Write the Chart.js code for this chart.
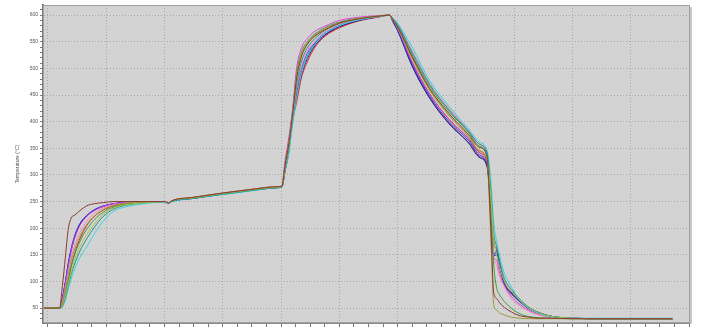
<!DOCTYPE html>
<html>
<head>
<meta charset="utf-8">
<script src="https://cdn.jsdelivr.net/npm/chart.js@4.4.1/dist/chart.umd.min.js"></script>
<style>
  html, body { margin: 0; padding: 0; background: #fff; }
</style>
</head>
<body>
<canvas id="profile" width="709" height="328"></canvas>
<script>
// sample times (s), shared by every probe
var times = [-5, 12, 15, 18, 21, 24, 28, 33, 40, 48, 57, 68, 80, 95, 120,
  124, 127, 150, 180, 210, 236, 241,
  244, 248, 252, 256, 261, 267, 275, 285, 300, 320, 340, 352,
  355, 360, 375, 393, 413, 433, 444, 452,
  456, 459, 462, 465, 470, 477, 485, 495, 505, 520, 540, 570, 643];

// probe temperatures (°C)
var brown   = [50,50,92,145,198,219,225,233,242,246,248,250,250,250,250, 247,251,258,266,273,278,279, 315,358,415,480,522,545,561,572,585,593,598,600, 592,578,522,462,415,376,352,335, 200,78,68,60,51,43,36,33,31,31,30,30,30];
var red     = [50,50,55,75,100,128,155,180,205,222,234,242,246,249,250, 247,251,257,265,272,277,278, 305,342,402,436,482,512,540,560,576,589,596,600, 590,574,512,452,404,368,342,325, 245,175,160,135,98,80,66,51,42,34,31,30,30];
var blue    = [50,50,70,100,135,162,188,209,224,235,242,246,248,249,250, 247,250,257,264,272,277,279, 312,352,410,462,500,528,548,566,581,591,597,600, 590,573,508,448,400,365,338,321, 240,150,158,132,96,79,64,50,41,34,31,30,30];
var magenta = [50,50,66,95,128,157,183,205,222,233,241,246,248,249,250, 248,251,258,266,273,278,280, 325,370,425,500,538,556,570,579,590,596,599,600, 591,575,512,452,405,369,345,328, 235,145,140,115,92,72,58,46,38,33,31,30,30];
var cyan    = [50,50,52,65,85,105,125,145,165,190,213,232,240,245,249, 246,249,256,263,270,276,277, 305,340,395,445,490,522,545,565,580,591,597,600, 595,585,540,477,429,386,362,347, 290,210,175,148,115,90,66,50,40,33,31,31,31];
var green   = [50,50,58,80,105,128,152,175,198,216,230,240,245,248,250, 247,251,257,265,272,277,279, 318,362,420,490,530,550,565,576,587,594,598,600, 592,580,525,466,419,380,354,338, 230,130,88,75,62,50,40,34,32,31,30,30,30];
var olive   = [50,50,60,85,112,138,163,185,207,223,235,243,247,249,250, 247,251,258,266,273,278,279, 316,360,418,485,527,548,563,574,586,594,598,600, 591,578,520,460,412,373,346,328, 180,55,46,41,37,33,31,30,30,30,30,30,30];
var purple  = [50,50,68,98,132,160,186,207,223,234,241,246,248,249,250, 247,250,256,264,271,276,278, 308,348,405,452,492,522,546,563,579,590,597,600, 589,572,505,445,397,361,335,318, 240,150,155,130,95,78,65,50,41,34,31,30,30];
var teal    = [50,50,54,70,92,113,135,157,180,202,222,236,243,247,250, 247,250,256,264,271,276,278, 310,352,412,470,512,538,556,571,584,593,598,600, 593,582,530,470,422,382,358,342, 270,190,165,138,105,85,68,52,42,34,31,30,30];
var pink    = [50,50,62,88,118,145,170,192,213,228,238,244,247,249,250, 247,251,257,265,272,277,279, 309,350,408,462,503,532,552,568,582,592,597,600, 594,583,533,472,425,384,358,342, 250,150,130,110,90,68,55,44,37,32,31,30,30];
var navy    = [50,50,67,97,130,158,185,207,223,234,241,246,248,249,250, 247,250,256,264,271,276,278, 306,346,402,448,488,518,543,562,578,590,597,600, 588,571,504,444,396,360,333,316, 235,148,150,128,94,77,63,49,40,33,31,30,30];
var lime    = [50,50,56,74,96,118,142,165,188,208,226,238,244,247,250, 247,251,257,265,272,277,279, 314,356,415,478,520,544,560,572,585,593,598,600, 591,577,518,458,410,372,346,330, 260,180,150,128,100,82,66,51,41,34,31,30,30];

var probes = [
  ['TC1', brown,   '#8b3a2e'],
  ['TC2', olive,   '#a09a3a'],
  ['TC3', lime,    '#9cc84a'],
  ['TC4', teal,    '#2a8c8c'],
  ['TC5', cyan,    '#38d4dc'],
  ['TC6', green,   '#3c9c40'],
  ['TC7', pink,    '#f088c0'],
  ['TC8', magenta, '#e040e0'],
  ['TC9', blue,    '#2a40e0'],
  ['TC10', navy,   '#202070'],
  ['TC11', purple, '#7a2ea8'],
  ['TC12', red,    '#e0202a']
];

var datasets = probes.map(function (p) {
  return {
    label: p[0],
    data: times.map(function (t, i) { return { x: t, y: p[1][i] }; }),
    borderColor: p[2],
    borderWidth: 1,
    pointRadius: 0,
    fill: false,
    cubicInterpolationMode: 'monotone'
  };
});

// grey plot area with a thin frame
var plotBox = {
  id: 'plotBox',
  beforeDraw: function (chart) {
    var a = chart.chartArea, c = chart.ctx;
    c.save();
    c.fillStyle = '#d3d3d3';
    c.fillRect(a.left, a.top, a.right - a.left, a.bottom - a.top);
    c.restore();
  },
  afterDraw: function (chart) {
    var a = chart.chartArea, c = chart.ctx;
    c.save();
    c.strokeStyle = '#a0a0a0';
    c.lineWidth = 1;
    c.strokeRect(a.left + 0.5, a.top + 0.5, a.right - a.left - 1, a.bottom - a.top - 1);
    c.strokeStyle = '#c8c8c8';
    c.lineWidth = 2;
    c.beginPath();
    c.moveTo(a.right + 1, a.top + 2);
    c.lineTo(a.right + 1, a.bottom + 1);
    c.stroke();
    c.restore();
  }
};

function gridColor(step) {
  return function (ctx) {
    return ctx.tick && ctx.tick.value % step === 0 ? '#a9a9a9' : 'rgba(0,0,0,0)';
  };
}

new Chart(document.getElementById('profile'), {
  type: 'line',
  data: { datasets: datasets },
  plugins: [plotBox],
  options: {
    responsive: false,
    animation: false,
    layout: { padding: { top: 4, right: 19, left: 0, bottom: 0 } },
    plugins: { legend: { display: false }, tooltip: { enabled: false } },
    scales: {
      x: {
        type: 'linear',
        min: -5,
        max: 661,
        afterBuildTicks: function (s) {
          var t = [];
          for (var v = 0; v <= 660; v += 15) t.push({ value: v });
          s.ticks = t;
        },
        afterFit: function (s) { s.height = 5; },
        ticks: { display: false },
        grid: { color: gridColor(60), tickColor: '#777', tickLength: 4 },
        border: { display: true, color: '#8a8a8a', width: 1, dash: [1, 2] }
      },
      y: {
        min: 22,
        max: 619,
        afterBuildTicks: function (s) {
          var t = [];
          for (var v = 30; v <= 610; v += 10) t.push({ value: v });
          s.ticks = t;
        },
        afterFit: function (s) { s.width = 43; },
        ticks: {
          autoSkip: false,
          padding: 2,
          color: '#555',
          font: { family: 'Liberation Sans', size: 5 },
          callback: function (v) { return v % 50 === 0 ? v : ''; }
        },
        grid: { color: gridColor(50), tickColor: '#777', tickLength: 3 },
        border: { display: true, color: '#7a7a7a', width: 2, dash: [1, 2] },
        title: {
          display: true,
          text: 'Temperature (°C)',
          color: '#555',
          font: { family: 'Liberation Sans', size: 5 },
          padding: { top: 15, bottom: 0 }
        }
      }
    }
  }
});
</script>
</body>
</html>
